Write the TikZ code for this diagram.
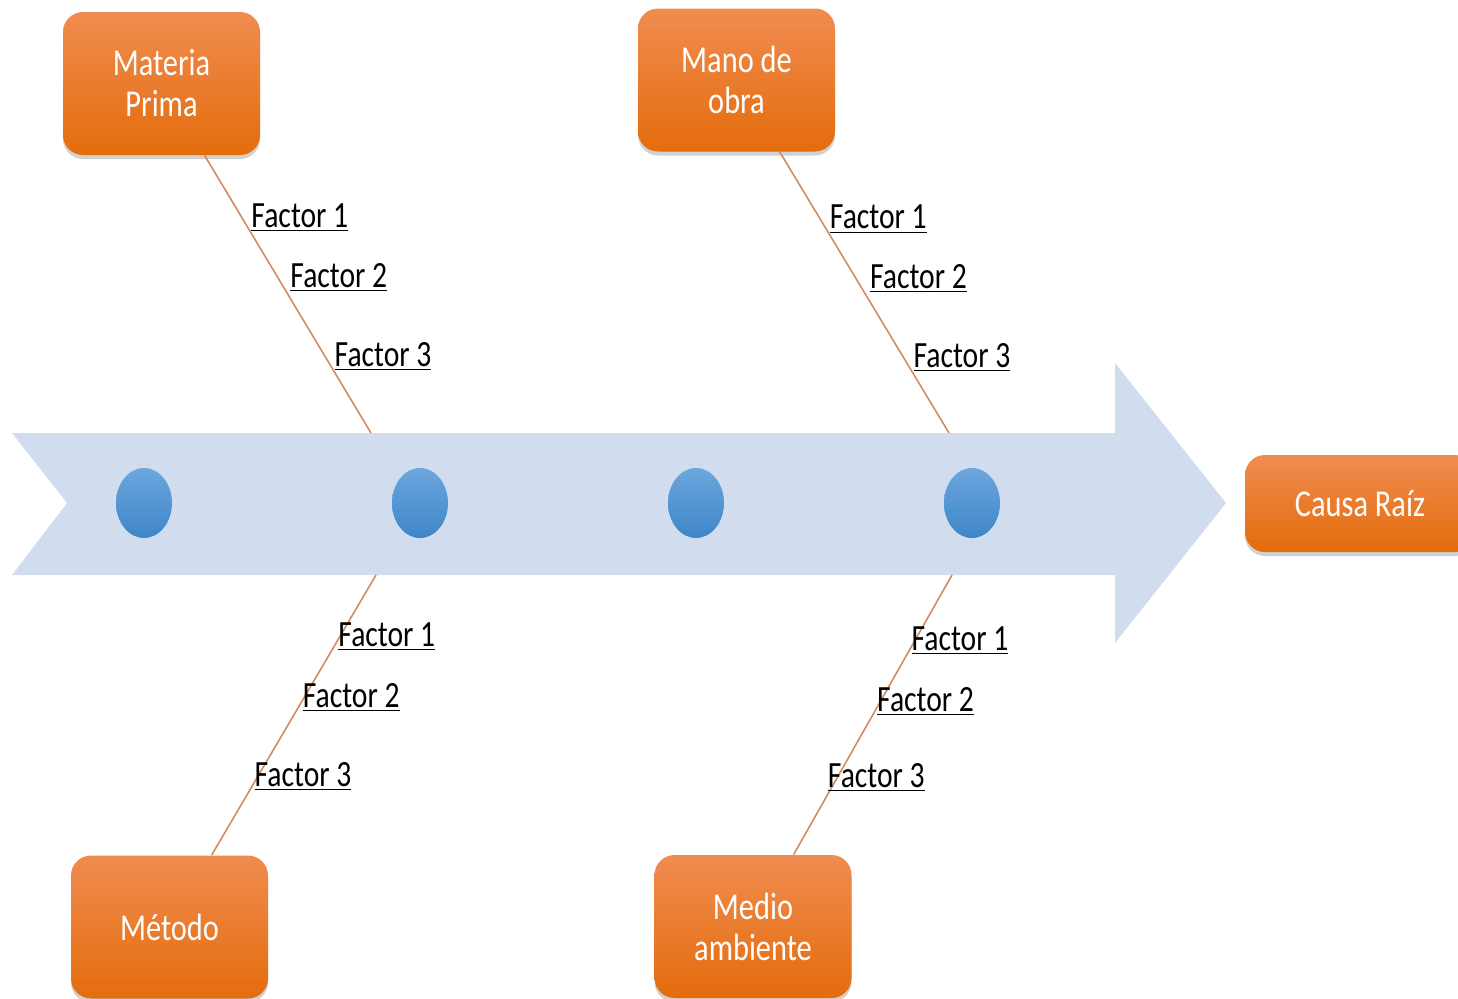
\documentclass[tikz,border=0pt]{standalone}
\usepackage{fontspec}
\setmainfont{Carlito}[FakeStretch=0.8]
\usepackage{tikz}
\usetikzlibrary{shadows}
\usetikzlibrary{shapes.geometric}
\definecolor{spineblue}{RGB}{209,221,238}
\definecolor{dottop}{RGB}{108,166,222}
\definecolor{dotbot}{RGB}{62,134,200}
\definecolor{boxtop}{RGB}{240,140,80}
\definecolor{boxbot}{RGB}{228,108,12}
\definecolor{bonecol}{RGB}{210,140,95}

\tikzset{
  cause/.style={rounded corners=10pt, top color=boxtop, bottom color=boxbot,
    text=white, align=center, minimum width=98.5pt, minimum height=71.5pt,
    font=\fontsize{19}{20.5}\selectfont,
    drop shadow={shadow xshift=0pt, shadow yshift=-2pt, opacity=0.18, fill=black}},
  dot/.style={ellipse, top color=dottop, bottom color=dotbot,
    minimum width=28pt, minimum height=35pt, inner sep=0pt},
  bone/.style={draw=bonecol, line width=0.8pt},
  factor/.style={inner sep=0pt, text=black, font=\fontsize{18.5}{20}\selectfont}
}

\begin{document}
\begin{tikzpicture}[x=0.5pt, y=-0.5pt]
  \useasboundingbox (0,0) rectangle (1458,998);
  \clip (0,0) rectangle (1458,998);

  % main spine
  \fill[spineblue] (12,433) -- (1115,433) -- (1115,363) -- (1226,503)
    -- (1115,643) -- (1115,575) -- (12,575) -- (67,503) -- cycle;
  \foreach \i/\x in {1/144, 2/420, 3/696, 4/972}
    \node[dot] (dot\i) at (\x,503) {};

  % effect
  \node[cause, minimum width=115pt, minimum height=48.5pt] (raiz) at (1360,503.5) {Causa Raíz};

  % causes
  \node[cause] (materia) at (161.5,83.5) {Materia\\Prima};
  \node[cause] (mano) at (736.5,80) {Mano de\\obra};
  \node[cause] (metodo) at (169.5,927) {Método};
  \node[cause] (medio) at (753,926.5) {Medio\\ambiente};

  % where the bones meet the spine
  \coordinate (materiaEnd) at (371,433);
  \coordinate (manoEnd) at (949,433);
  \coordinate (metodoEnd) at (376,575);
  \coordinate (medioEnd) at (952,575);

  % upper bones
  \draw[bone] (materia) -- (materiaEnd)
    node[factor, pos=0.277, anchor=south west] (mp1) {\underline{Factor 1}}
    node[factor, pos=0.493, anchor=south west, xshift=1.5pt] (mp2) {\underline{Factor 2}}
    node[factor, pos=0.777, anchor=south west] (mp3) {\underline{Factor 3}};
  \draw[bone] (mano) -- (manoEnd)
    node[factor, pos=0.292, anchor=south west] (mo1) {\underline{Factor 1}}
    node[factor, pos=0.505, anchor=south west, xshift=2pt] (mo2) {\underline{Factor 2}}
    node[factor, pos=0.786, anchor=south west] (mo3) {\underline{Factor 3}};

  % lower bones
  \draw[bone] (metodoEnd) -- (metodo)
    node[factor, pos=0.221, anchor=west, xshift=-1pt] (me1) {\underline{Factor 1}}
    node[factor, pos=0.438, anchor=west, xshift=-1pt] (me2) {\underline{Factor 2}}
    node[factor, pos=0.719, anchor=west, xshift=-2pt] (me3) {\underline{Factor 3}};
  \draw[bone] (medioEnd) -- (medio)
    node[factor, pos=0.235, anchor=west, xshift=-2pt] (ma1) {\underline{Factor 1}}
    node[factor, pos=0.452, anchor=west, xshift=-2pt] (ma2) {\underline{Factor 2}}
    node[factor, pos=0.725, anchor=west, xshift=-5pt] (ma3) {\underline{Factor 3}};
\end{tikzpicture}
\end{document}
